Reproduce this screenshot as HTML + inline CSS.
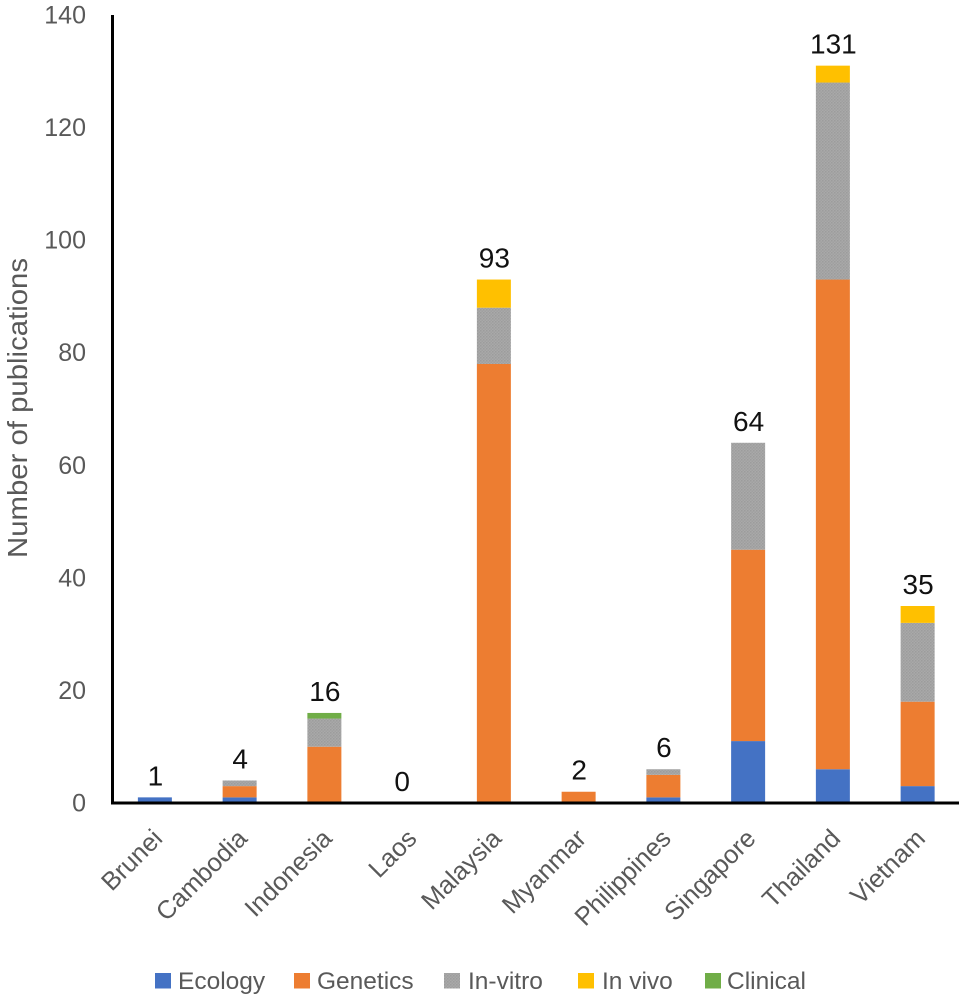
<!DOCTYPE html>
<html lang="en">
<head>
<meta charset="utf-8">
<title>Publications by country</title>
<style>
html,body{margin:0;padding:0;background:#fff;}
svg{display:block;font-family:"Liberation Sans",sans-serif;}
</style>
</head>
<body>
<svg id="chart" xmlns="http://www.w3.org/2000/svg" width="964" height="998" viewBox="0 0 964 998">
  <defs>
    <pattern id="gray-dots" width="3" height="3" patternUnits="userSpaceOnUse">
      <rect width="3" height="3" fill="#a9a9a9"/>
      <rect width="1.5" height="1.5" fill="#9c9c9c"/>
      <rect x="1.5" y="1.5" width="1.5" height="1.5" fill="#a0a0a0"/>
    </pattern>
  </defs>
  <g id="bars"></g>
  <g id="y-ticks"></g>
  <g id="x-labels"></g>
  <g id="totals"></g>
  <line x1="112.5" y1="15" x2="112.5" y2="804.5" stroke="#000" stroke-width="3"/>
  <line x1="111" y1="803" x2="959" y2="803" stroke="#000" stroke-width="3"/>
  <text transform="translate(27,408) rotate(-90)" text-anchor="middle" font-size="27.5" textLength="300" lengthAdjust="spacingAndGlyphs" fill="#595959">Number of publications</text>
  <g font-size="24.5" fill="#595959">
    <g>
      <rect x="155" y="973" width="16" height="15.5" fill="#4472c4"/>
      <text x="178" y="989">Ecology</text>
    </g>
    <g>
      <rect x="294" y="973" width="16" height="15.5" fill="#ed7d31"/>
      <text x="317" y="989">Genetics</text>
    </g>
    <g>
      <rect x="444" y="973" width="16" height="15.5" fill="url(#gray-dots)"/>
      <text x="468" y="989">In-vitro</text>
    </g>
    <g>
      <rect x="578" y="973" width="16" height="15.5" fill="#ffc000"/>
      <text x="602" y="989">In vivo</text>
    </g>
    <g>
      <rect x="705" y="973" width="16" height="15.5" fill="#70ad47"/>
      <text x="727" y="989">Clinical</text>
    </g>
  </g>
</svg>
<script>
const categories = ["Brunei","Cambodia","Indonesia","Laos","Malaysia","Myanmar","Philippines","Singapore","Thailand","Vietnam"];
const ecology  = [1,1,0,0,0,0,1,11,6,3];
const genetics = [0,2,10,0,78,2,4,34,87,15];
const inVitro  = [0,1,5,0,10,0,1,19,35,14];
const inVivo   = [0,0,0,0,5,0,0,0,3,3];
const clinical = [0,0,1,0,0,0,0,0,0,0];
const totals   = [1,4,16,0,93,2,6,64,131,35];
const yTicks   = [0,20,40,60,80,100,120,140];

const NS = "http://www.w3.org/2000/svg";
const plotLeft = 112.5, plotWidth = 847.5, barWidth = 34;
const y0 = 803, yPerUnit = 788 / 140;
const yScale = v => y0 - v * yPerUnit;
const xCenter = i => plotLeft + (plotWidth / categories.length) * (i + 0.5);
const zeroLabelShift = -7;

const stack = [
  { key: "ecology",  values: ecology,  fill: "#4472c4" },
  { key: "genetics", values: genetics, fill: "#ed7d31" },
  { key: "in-vitro", values: inVitro,  fill: "url(#gray-dots)" },
  { key: "in-vivo",  values: inVivo,   fill: "#ffc000" },
  { key: "clinical", values: clinical, fill: "#70ad47" }
];

const barsGroup = document.getElementById("bars");
const ticksGroup = document.getElementById("y-ticks");
const labelsGroup = document.getElementById("x-labels");
const totalsGroup = document.getElementById("totals");

categories.forEach((cat, i) => {
  let base = 0;
  stack.forEach(s => {
    const v = s.values[i];
    if (v > 0) {
      const r = document.createElementNS(NS, "rect");
      
      
      r.setAttribute("x", xCenter(i) - barWidth / 2);
      r.setAttribute("y", yScale(base + v));
      r.setAttribute("width", barWidth);
      r.setAttribute("height", yScale(base) - yScale(base + v));
      r.setAttribute("fill", s.fill);
      barsGroup.appendChild(r);
    }
    base += v;
  });

  const label = document.createElementNS(NS, "text");
  
  
  label.setAttribute("transform", "translate(" + (xCenter(i) + 9) + ",840) rotate(-45)");
  label.setAttribute("text-anchor", "end");
  label.setAttribute("font-size", "25.5");
  label.setAttribute("fill", "#595959");
  label.textContent = cat;
  labelsGroup.appendChild(label);

  const total = document.createElementNS(NS, "text");
  
  
  total.setAttribute("x", xCenter(i) + (totals[i] === 0 ? zeroLabelShift : 0.5));
  total.setAttribute("y", yScale(totals[i]) - 12);
  total.setAttribute("text-anchor", "middle");
  total.setAttribute("font-size", "28");
  total.setAttribute("fill", "#111");
  total.textContent = totals[i];
  totalsGroup.appendChild(total);
});

yTicks.forEach(t => {
  const tick = document.createElementNS(NS, "text");
  
  
  tick.setAttribute("x", 86);
  tick.setAttribute("y", yScale(t) + 8.5);
  tick.setAttribute("text-anchor", "end");
  tick.setAttribute("font-size", "25");
  tick.setAttribute("fill", "#595959");
  tick.textContent = t;
  ticksGroup.appendChild(tick);
});
</script>
</body>
</html>
